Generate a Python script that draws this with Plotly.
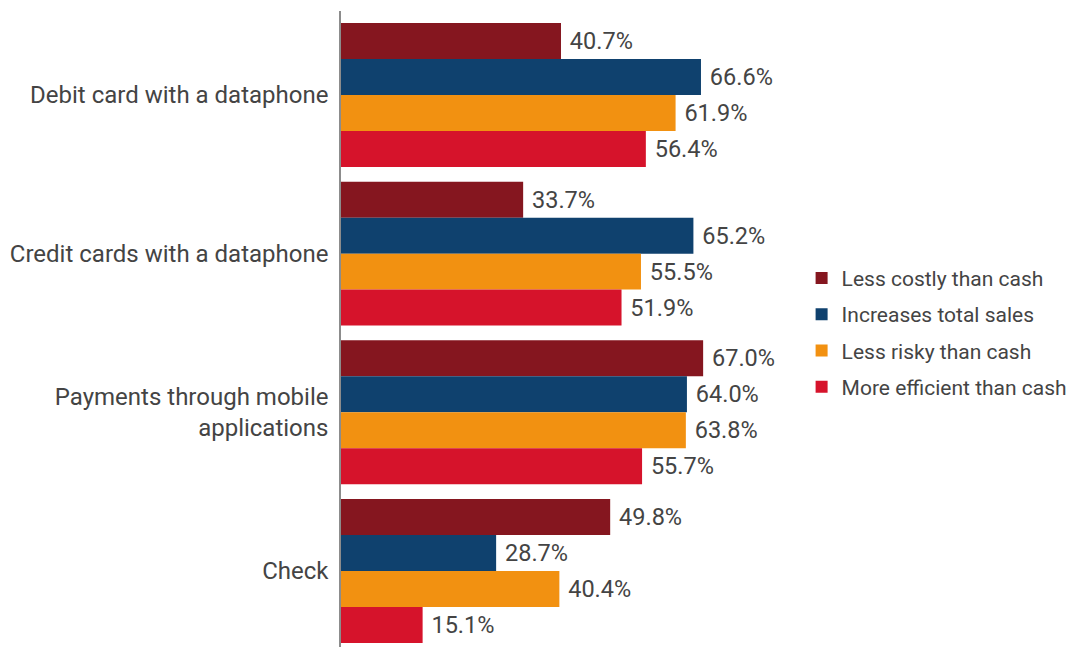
import plotly.graph_objects as go

categories = [
    "Debit card with a dataphone",
    "Credit cards with a dataphone",
    "Payments through mobile<br>applications",
    "Check",
]
series_names = [
    "Less costly than cash",
    "Increases total sales",
    "Less risky than cash",
    "More efficient than cash",
]
less_costly = [40.7, 33.7, 67.0, 49.8]
increases_sales = [66.6, 65.2, 64.0, 28.7]
less_risky = [61.9, 55.5, 63.8, 40.4]
more_efficient = [56.4, 51.9, 55.7, 15.1]

colors = ["#85161f", "#0f416e", "#f29111", "#d6132b"]
values = [less_costly, increases_sales, less_risky, more_efficient]

fig = go.Figure()
for name, vals, col in zip(series_names, values, colors):
    fig.add_trace(go.Bar(
        y=categories,
        x=vals,
        name=name,
        legendgroup=name,
        orientation="h",
        marker=dict(color=col, line=dict(width=0)),
        text=[f"\u00a0{v:.1f}%" for v in vals],
        textposition="outside",
        constraintext="none",
        textfont=dict(size=23.5, color="#444444", family="Roboto"),
        cliponaxis=False,
    ))

fig.update_layout(
    width=1068,
    height=647,
    barmode="group",
    bargap=0.093,
    bargroupgap=0,
    plot_bgcolor="rgba(0,0,0,0)",
    paper_bgcolor="white",
    margin=dict(l=341, r=200, t=11, b=0, autoexpand=False),
    font=dict(family="Roboto", color="#444444", size=21),
    showlegend=True,
    legend=dict(
        x=0.874, y=0.494, xanchor="left", yanchor="middle",
        bgcolor="rgba(0,0,0,0)",
        font=dict(size=21, color="#444444"),
        traceorder="grouped",
        tracegroupgap=6,
    ),
    xaxis=dict(
        range=[0, 97.5],
        showgrid=False,
        zeroline=False,
        showticklabels=False,
        showline=False,
    ),
    yaxis=dict(
        type="category",
        range=[3.479, -0.529],
        showgrid=False,
        showline=True,
        linecolor="#8c8c8c",
        linewidth=1.5,
        ticks="",
        ticklabelstandoff=6,
        tickfont=dict(size=24, color="#444444"),
    ),
)

fig.write_html("out.html")
